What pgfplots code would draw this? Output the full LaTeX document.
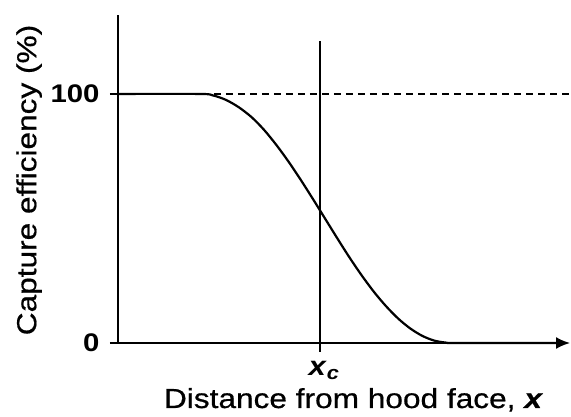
\documentclass[border=0pt]{standalone}
\usepackage{fontspec}
\setmainfont{Liberation Sans}[FakeStretch=1.15]
\newfontfamily\labelfont{Liberation Sans}[FakeStretch=1.15, FakeBold=0.6]
\usepackage{pgfplots}
\pgfplotsset{compat=1.18}
\usetikzlibrary{arrows.meta}
\begin{document}
\begin{tikzpicture}
\path[use as bounding box] (-118pt,-74pt) rectangle (453pt,343pt);
\begin{axis}[
  at={(0,0)}, anchor=south west,
  scale only axis, width=452pt, height=328pt,
  xmin=0, xmax=452, ymin=0, ymax=131.7,
  axis lines=left,
  axis line style={line width=1.8pt},
  x axis line style={-{Latex[length=14pt,width=12pt]}},
  y axis line style={-},
  clip=false,
  xtick={202}, xticklabels={\textbf{\textit{x}}\textsubscript{\textbf{\textit{c}}}},
  ytick={0,100}, yticklabels={\textbf{0},\textbf{100}},
  tick align=outside, major tick length=8pt,
  tick style={line width=1.6pt, black},
  yticklabel style={font=\fontsize{25.5}{30}\selectfont, xshift=-7pt},
  xticklabel style={font=\fontsize{27}{30}\selectfont, yshift=-7pt, xshift=4pt},
  xlabel={Distance from hood face, \textbf{\textit{x}}},
  ylabel={Capture efficiency (\%)},
  label style={font=\labelfont\fontsize{27.5}{30}\selectfont},
  xlabel style={at={(rel axis cs:0.521,0)}, anchor=base, yshift=-65pt},
  ylabel style={at={(rel axis cs:-0.181,0.497)}, anchor=base, rotate=0},
]
\addplot[black, line width=1.8pt, dash pattern=on 7pt off 5pt] coordinates {(0,100) (452,100)};
\addplot[black, line width=1.6pt] coordinates {(202,-3.6) (202,121.3)};
\addplot[black, line width=2.2pt, smooth, tension=0.5] coordinates {
(0,100) (82,100) (95,99.4) (108,97.6) (121,94.6) (133.8,90.6) (146,85.6)
(158.2,79.6) (170.4,72.9) (182.6,65.6) (194.8,57.9) (207,50) (219.2,42.1)
(231.4,34.4) (243.6,27.2) (255.8,20.6) (268,14.8) (280.2,9.8) (292.4,5.8)
(304.6,2.8) (316.8,0.9) (329,0.1) (338,0) (440,0)};
\end{axis}
\end{tikzpicture}
\end{document}
